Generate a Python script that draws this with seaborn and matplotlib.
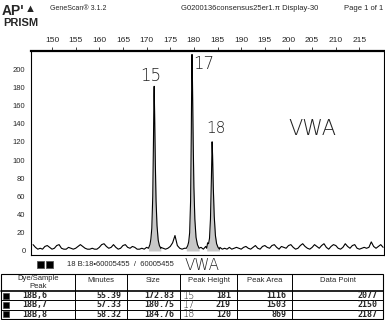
import numpy as np
import matplotlib
matplotlib.use("Agg")
import matplotlib.pyplot as plt
import seaborn as sns
from matplotlib.patches import Rectangle

# Electropherogram trace (size in bp, fluorescence units)
baseline_x = np.arange(146.0, 220.01, 0.5)
baseline_y = [7, 4, 2, 3, 2, 5, 6, 4, 2, 3,
              6, 7, 3, 2, 2, 4, 3, 2, 3, 5,
              7, 5, 3, 2, 2, 3, 2, 2, 4, 7,
              8, 5, 3, 4, 7, 4, 2, 3, 6, 7,
              4, 3, 5, 4, 2, 2, 3, 2, 4, 6,
              5, 5, 5, 5, 4, 3, 2, 3, 5, 9,
              17, 6, 3, 2, 3, 2, 3, 3, 3, 3,
              4, 4, 2, 5, 4, 4, 4, 4, 4, 4,
              2, 3, 2, 4, 2, 3, 4, 3, 2, 4,
              5, 3, 2, 4, 6, 3, 2, 5, 6, 4,
              3, 6, 7, 4, 2, 5, 4, 3, 6, 7,
              4, 2, 3, 6, 8, 5, 3, 2, 4, 7,
              5, 3, 6, 8, 4, 2, 5, 7, 6, 3,
              2, 4, 8, 5, 3, 6, 7, 3, 2, 3,
              4, 3, 4, 10, 5, 3, 5, 7, 4]

peak15_x = [170.4, 170.7, 170.9, 171.1, 171.3, 171.45, 171.55, 171.6, 171.7, 171.85, 172.0, 172.2, 172.45, 172.7, 173.0]
peak15_y = [3, 7, 13, 25, 60, 120, 170, 181, 150, 95, 55, 28, 12, 6, 3]
peak17_x = [178.4, 178.7, 178.9, 179.1, 179.3, 179.45, 179.55, 179.6, 179.7, 179.85, 180.0, 180.2, 180.45, 180.75, 181.1]
peak17_y = [3, 6, 10, 20, 55, 130, 198, 216, 185, 120, 70, 35, 15, 7, 3]
peak18_x = [182.7, 182.9, 183.1, 183.3, 183.5, 183.7, 183.85, 183.95, 184.1, 184.3, 184.55, 184.8, 185.1, 185.4]
peak18_y = [3, 9, 8, 14, 35, 80, 120, 105, 70, 38, 17, 8, 4, 2]

# Table values
dye_peaks = ["18B,6", "18B,7", "18B,8"]
minutes = ["55.39", "57.33", "58.32"]
sizes = ["172.83", "180.75", "184.76"]
heights = ["181", "219", "120"]
areas = ["1116", "1503", "869"]
data_points = ["2077", "2150", "2187"]
allele_notes = ["15", "17", "18"]
col_headers = ["Dye/Sample\nPeak", "Minutes", "Size", "Peak Height", "Peak Area", "Data Point"]

size_ticks = list(range(150, 216, 5))
rfu_ticks = list(range(0, 201, 20))

peaks = [(peak15_x, peak15_y), (peak17_x, peak17_y), (peak18_x, peak18_y)]
keep = np.ones(len(baseline_x), bool)
for px, py in peaks:
    keep &= ~((baseline_x > min(px)) & (baseline_x < max(px)))
trace_x = np.concatenate([baseline_x[keep]] + [np.array(p[0]) for p in peaks])
trace_y = np.concatenate([np.array(baseline_y)[keep]] + [np.array(p[1]) for p in peaks])
order = np.argsort(trace_x)
trace_x, trace_y = trace_x[order], trace_y[order]

sns.set_style("white")
plt.rcParams['font.family'] = ['Liberation Sans', 'DejaVu Sans']

fig = plt.figure(figsize=(3.85, 3.2), dpi=100)
ax = fig.add_axes([31/385, 65/320, 353/385, 204/320])

for px, py in peaks:
    ax.fill_between(px, py, 0, color="#c8c8c8", lw=0)
sns.lineplot(x=trace_x, y=trace_y, ax=ax, color="black", lw=0.8, estimator=None)

ax.set_xlim(145.56, 220.19)
ax.set_ylim(-4.4, 219.8)
ax.xaxis.tick_top()
ax.set_xticks(size_ticks)
ax.set_xticklabels([str(t) for t in size_ticks], fontsize=6)
ax.tick_params(axis="x", direction="out", length=3, width=0.6, pad=2)
ax.set_yticks(rfu_ticks)
ax.set_yticklabels([str(t) for t in rfu_ticks], fontsize=5.5)
ax.tick_params(axis="y", direction="out", length=3, width=0.6, pad=1)
for s in ax.spines.values():
    s.set_color("black")
    s.set_linewidth(0.8)
ax.spines["top"].set_linewidth(1.6)
ax.set_xlabel("")
ax.set_ylabel("")

# handwritten allele calls
hand = dict(family="DejaVu Sans", fontweight="light", color="#222222")
ax.text(170.8, 192, "15", fontsize=12, ha="center", va="center", **hand)
ax.text(182.0, 206, "17", fontsize=12, ha="center", va="center", **hand)
ax.text(184.6, 135, "18", fontsize=11, ha="center", va="center", **hand)
ax.text(205.0, 134, "VWA", fontsize=15, ha="center", va="center", **hand)

# page header, legend and peak table drawn in pixel coordinates
pg = fig.add_axes([0, 0, 1, 1], zorder=-1)
pg.set_xlim(0, 385)
pg.set_ylim(320, 0)
pg.axis("off")

logo = dict(family=["Liberation Sans Narrow", "Liberation Sans"], fontweight="bold", ha="left", va="center")
pg.text(2, 11, "AP'", fontsize=10, **logo)
pg.text(3, 23, "PRISM", fontsize=8, **logo)
pg.text(30, 9, "\u25B2", fontsize=8, va="center", ha="center")
pg.text(50, 8, "GeneScan\u00ae 3.1.2", fontsize=5, va="center", ha="left")
pg.text(250, 8, "G0200136consensus25er1.\u03c0 Display-30", fontsize=5.5, va="center", ha="center")
pg.text(383, 8, "Page 1 of 1", fontsize=5.5, va="center", ha="right")

for x0 in (37, 46):
    pg.add_patch(Rectangle((x0, 261), 7, 7, facecolor="black", edgecolor="#555555", lw=0.6))
pg.text(67, 265, "18 B:18\u202260005455  /  60005455", fontsize=5.5, va="center", ha="left")
pg.text(202, 265, "VWA", fontsize=11, va="center", ha="center", **hand)

col_edges = [0.5, 75, 127, 180, 237, 292, 383]
top, head_bot, row_h = 274, 291, 9.3
bottom = head_bot + row_h * len(dye_peaks)
pg.add_patch(Rectangle((col_edges[0], top), col_edges[-1] - col_edges[0], bottom - top,
                       fill=False, edgecolor="black", lw=0.8))
for xe in col_edges[1:-1]:
    pg.plot([xe, xe], [top, bottom], color="black", lw=0.7)
pg.plot([col_edges[0], col_edges[-1]], [head_bot, head_bot], color="black", lw=1.2)
for i in range(1, len(dye_peaks)):
    yl = head_bot + i * row_h
    pg.plot([col_edges[0], col_edges[-1]], [yl, yl], color="black", lw=0.7)

for j, h in enumerate(col_headers):
    cx = (col_edges[j] + col_edges[j + 1]) / 2
    yy = (top + head_bot) / 2 if "\n" in h else top + 6
    pg.text(cx, yy, h, fontsize=5.5, ha="center", va="center", linespacing=1.3)

cols = [minutes, sizes, heights, areas, data_points]
mono = dict(family="DejaVu Sans Mono", fontweight="bold", fontsize=6)
for i in range(len(dye_peaks)):
    yc = head_bot + (i + 0.5) * row_h
    pg.add_patch(Rectangle((3, yc - 3), 6, 6, facecolor="black", edgecolor="#444444", lw=0.5))
    pg.text(22, yc, dye_peaks[i], ha="left", va="center", **mono)
    for j, vals in enumerate(cols):
        pg.text(col_edges[j + 2] - 6, yc, vals[i], ha="right", va="center", **mono)
    pg.text(col_edges[3] + 3, yc, allele_notes[i], fontsize=7, ha="left", va="center", **hand)

fig.savefig("out.png", dpi=100)
